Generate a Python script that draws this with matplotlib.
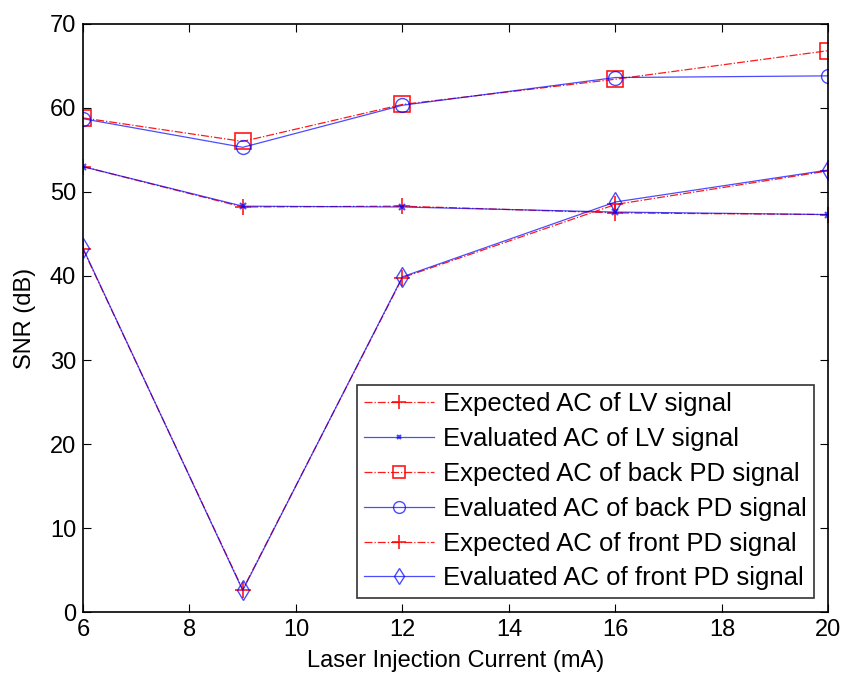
import matplotlib
matplotlib.use("Agg")
import matplotlib.pyplot as plt

plt.rcParams['font.family'] = ['Liberation Sans', 'DejaVu Sans']

current = [6, 9, 12, 16, 20]

lv_expected = [53.0, 48.2, 48.3, 47.5, 47.3]
lv_evaluated = [53.0, 48.3, 48.2, 47.6, 47.3]
back_expected = [58.8, 56.0, 60.4, 63.4, 66.8]
back_evaluated = [58.7, 55.3, 60.3, 63.6, 63.8]
front_expected = [43.2, 2.7, 39.8, 48.5, 52.5]
front_evaluated = [43.3, 2.6, 39.9, 48.8, 52.6]

labels = ["Expected AC of LV signal", "Evaluated AC of LV signal",
          "Expected AC of back PD signal", "Evaluated AC of back PD signal",
          "Expected AC of front PD signal", "Evaluated AC of front PD signal"]


def plot_graph():
    fig = plt.figure(figsize=(8.47, 6.78), dpi=100)
    ax = fig.add_axes([0.098, 0.097, 0.88, 0.868])
    red = dict(color='red', linestyle='-.', linewidth=0.9, alpha=0.9)
    blue = dict(color='blue', linestyle='-', linewidth=0.9, alpha=0.7)
    ax.plot(current, lv_expected, marker='+', markersize=12, markeredgewidth=1.2, label=labels[0], **red)
    ax.plot(current, lv_evaluated, marker='x', markersize=4, markeredgewidth=1.5, label=labels[1], **blue)
    ax.plot(current, back_expected, marker='s', markersize=11, markerfacecolor='none', markeredgewidth=1.2, label=labels[2], **red)
    ax.plot(current, back_evaluated, marker='o', markersize=10, markerfacecolor='none', markeredgewidth=1.0, label=labels[3], **blue)
    ax.plot(current, front_expected, marker='+', markersize=12, markeredgewidth=1.2, label=labels[4], **red)
    ax.plot(current, front_evaluated, marker='d', markersize=10, markerfacecolor='none', markeredgewidth=1.0, label=labels[5], **blue)

    ax.set_xlim(6, 20)
    ax.set_ylim(0, 70)
    ax.set_xticks(range(6, 21, 2))
    ax.set_yticks(range(0, 71, 10))
    ax.tick_params(direction='in', top=True, right=True, labelsize=17, length=6, pad=5)
    for s in ax.spines.values():
        s.set_linewidth(1.2)
    ax.set_xlabel('Laser Injection Current (mA)', fontsize=17, labelpad=6)
    ax.set_ylabel('SNR (dB)', fontsize=17, labelpad=10)
    leg = ax.legend(loc='lower right', fontsize=18.5, frameon=True, fancybox=False,
                    edgecolor='black', handlelength=2.7, borderpad=0.3, markerscale=0.85,
                    labelspacing=0.42, handletextpad=0.35, borderaxespad=0.55)
    leg.get_frame().set_linewidth(1.2)
    fig.savefig('out.png', dpi=100)


plot_graph()
